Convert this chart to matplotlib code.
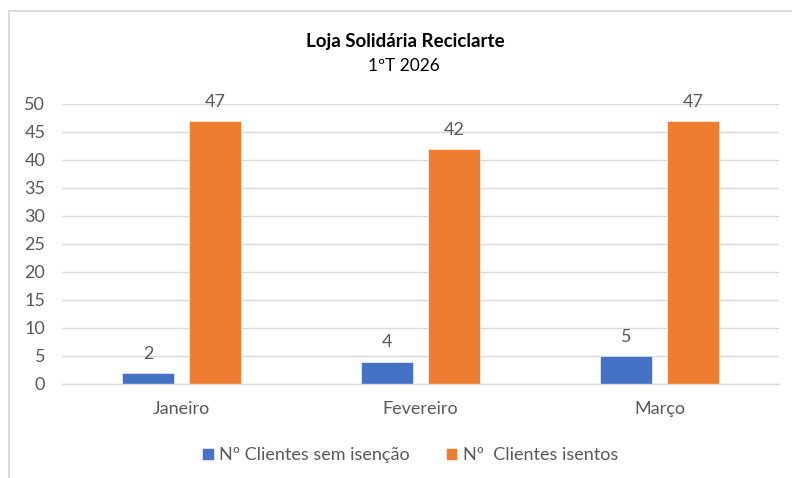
import numpy as np
import matplotlib.pyplot as plt
from matplotlib.patches import Rectangle

# Data
meses = ['Janeiro', 'Fevereiro', 'Março']
sem_isencao = [2, 4, 5]
isentos = [47, 42, 47]
series_names = ['Nº Clientes sem isenção', 'Nº  Clientes isentos']
yticks = [0, 5, 10, 15, 20, 25, 30, 35, 40, 45, 50]

plt.rcParams['font.family'] = ['Lato', 'DejaVu Sans']
grey = '#595959'
blue = '#4472C4'
orange = '#ED7D31'

fig = plt.figure(figsize=(7.92, 4.78), dpi=100)

# chart area border (only top/left visible in the crop)
fig.patches.append(Rectangle((9 / 792, -0.1), 1.1, (478 - 11) / 478 + 0.1,
                             transform=fig.transFigure, fill=False,
                             edgecolor='#D9D9D9', linewidth=1.3))

ax = fig.add_axes([62 / 792, 94 / 478, 717 / 792, 280 / 478])

x = np.arange(len(meses))
w = 0.218
gap = 0.063
off = (w + gap) / 2

b1 = ax.bar(x - off, sem_isencao, w, color=blue, label=series_names[0],
            edgecolor='white', linewidth=0.4)
b2 = ax.bar(x + off, isentos, w, color=orange, label=series_names[1],
            edgecolor='white', linewidth=0.4)

for bars in (b1, b2):
    ax.bar_label(bars, padding=8, color=grey, fontsize=13)

ax.set_xlim(-0.5, len(meses) - 0.5)
ax.set_ylim(0, 50)
ax.set_yticks(yticks)
ax.set_xticks(x)
ax.set_xticklabels(meses)
ax.tick_params(axis='both', length=0, colors=grey, labelsize=13)
ax.tick_params(axis='y', pad=12)
ax.tick_params(axis='x', pad=12.5)

ax.grid(axis='y', color='#D9D9D9', linewidth=1)
ax.set_axisbelow(True)
for s in ['top', 'right', 'left']:
    ax.spines[s].set_visible(False)
ax.spines['bottom'].set_color('#D9D9D9')
ax.spines['bottom'].set_linewidth(1)

fig.text(405 / 792, 1 - 42 / 478, 'Loja Solidária Reciclarte', ha='center',
         va='center', fontsize=13.5, fontweight='bold', color='black')
fig.text(404 / 792, 1 - 66 / 478, '1ºT 2026', ha='center', va='center',
         fontsize=12.5, color='black')

fig.legend(loc='center', bbox_to_anchor=(410 / 792, 1 - 455 / 478), ncol=2,
           frameon=False, fontsize=13, handlelength=0.65, handleheight=0.65,
           handletextpad=0.3, columnspacing=2.0, labelcolor=grey)

fig.savefig('out.png', dpi=100)
